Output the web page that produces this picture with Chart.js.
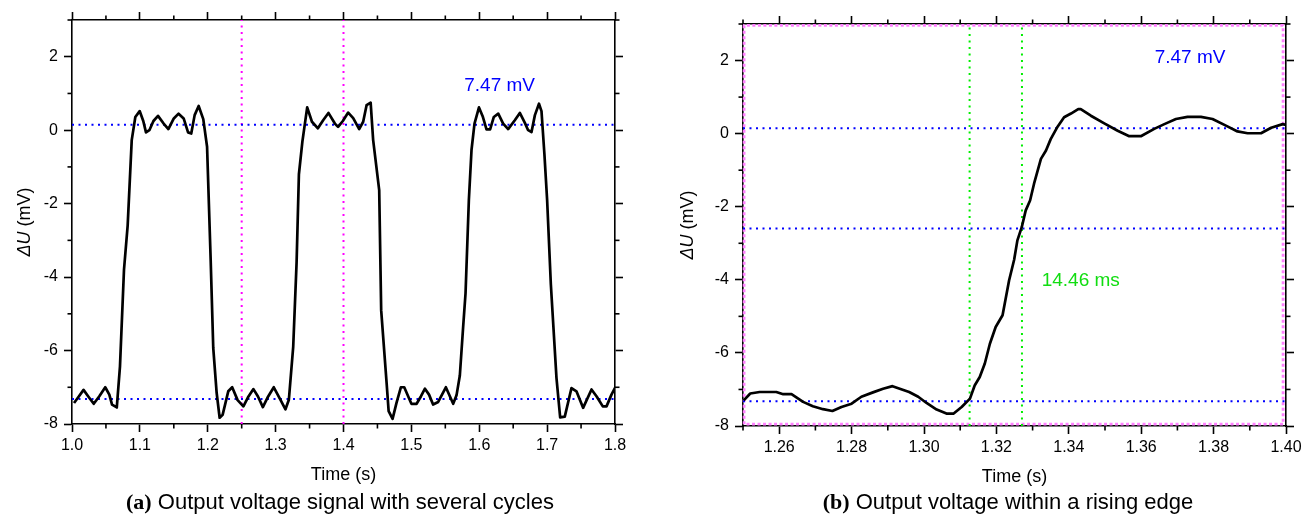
<!DOCTYPE html>
<html>
<head>
<meta charset="utf-8">
<script src="https://cdn.jsdelivr.net/npm/chart.js@4.4.0/dist/chart.umd.min.js"></script>
<style>
  body { margin: 0; background: #fff; }
  #page { position: relative; width: 1311px; height: 520px; background: #fff; font-family: 'Liberation Sans', Arial, sans-serif; }
  canvas { position: absolute; top: 0; }
  .caption { position: absolute; top: 489px; font-size: 22px; line-height: 26px; text-align: center; white-space: nowrap; color: #000; }
  .caption b { font-family: 'Liberation Serif', 'Times New Roman', serif; font-weight: bold; }
</style>
</head>
<body>
<div id="page">
  <canvas id="chartA" width="655" height="490" style="left:0"></canvas>
  <canvas id="chartB" width="656" height="490" style="left:655px"></canvas>
  <div class="caption" style="left:0;width:680px"><b>(a)</b> Output voltage signal with several cycles</div>
  <div class="caption" style="left:700px;width:616px"><b>(b)</b> Output voltage within a rising edge</div>
</div>
<script>
// (a) several cycles of the output signal
var timeA = [1.003, 1.010, 1.017, 1.024, 1.032, 1.040, 1.049, 1.055, 1.059, 1.066,
  1.0707, 1.0766, 1.082, 1.088, 1.0933, 1.0997, 1.105, 1.109, 1.114, 1.120,
  1.1267, 1.135, 1.142, 1.150, 1.157, 1.1645, 1.171, 1.1757, 1.1807, 1.1866,
  1.1934, 1.1990, 1.2043, 1.2081, 1.2131, 1.2175, 1.2219, 1.2302, 1.2360, 1.2440,
  1.2525, 1.2600, 1.2673, 1.2740, 1.2812, 1.2890, 1.2973, 1.3060, 1.3145, 1.3195,
  1.3259, 1.3309, 1.3343, 1.3395, 1.3465, 1.3535, 1.3623, 1.3700, 1.3778, 1.3873,
  1.3920, 1.3990, 1.4069, 1.4143, 1.4231, 1.4290, 1.4340, 1.4400, 1.4437, 1.4526,
  1.4555, 1.4635, 1.4665, 1.4723, 1.4780, 1.4845, 1.4895, 1.5000, 1.5077, 1.5140,
  1.5200, 1.5260, 1.5320, 1.5395, 1.5508, 1.5616, 1.5665, 1.5714, 1.5763, 1.5798,
  1.5847, 1.5886, 1.5930, 1.5996, 1.6050, 1.6107, 1.6160, 1.6215, 1.6280, 1.6352,
  1.6426, 1.6524, 1.6598, 1.6672, 1.6720, 1.6770, 1.6820, 1.6880, 1.6917, 1.6960,
  1.7000, 1.7055, 1.7138, 1.7192, 1.7260, 1.7359, 1.7432, 1.7530, 1.7654, 1.7730,
  1.7820, 1.7875, 1.7948, 1.8000];
var voltA = [-7.43, -7.25, -7.07, -7.25, -7.45, -7.25, -7.00, -7.20, -7.47, -7.55,
  -6.43, -3.80, -2.60, -0.27, 0.36, 0.52, 0.25, -0.06, 0.00, 0.25,
  0.39, 0.18, 0.03, 0.32, 0.45, 0.32, -0.06, -0.09, 0.41, 0.66,
  0.30, -0.45, -3.53, -5.93, -7.15, -7.83, -7.75, -7.11, -7.00, -7.35,
  -7.52, -7.25, -7.05, -7.25, -7.54, -7.25, -7.00, -7.30, -7.60, -7.34,
  -5.90, -3.60, -1.20, -0.30, 0.62, 0.23, 0.05, 0.27, 0.47, 0.18,
  0.09, 0.25, 0.48, 0.33, 0.03, 0.23, 0.68, 0.75, -0.27, -1.63,
  -4.90, -6.88, -7.65, -7.86, -7.43, -7.00, -7.00, -7.45, -7.45, -7.25,
  -7.04, -7.20, -7.47, -7.40, -7.00, -7.45, -7.22, -6.68, -5.35, -4.44,
  -1.90, -0.54, 0.18, 0.62, 0.38, 0.02, 0.02, 0.36, 0.45, 0.18,
  0.03, 0.27, 0.47, 0.20, 0.00, -0.05, 0.41, 0.72, 0.52, -0.65,
  -1.90, -4.20, -6.75, -7.82, -7.80, -7.02, -7.11, -7.56, -7.06, -7.25,
  -7.52, -7.52, -7.20, -7.02];

// (b) one rising edge, finer time base
var timeB = [1.2502, 1.2520, 1.2546, 1.2592, 1.2611, 1.2634, 1.2666, 1.2693, 1.2721, 1.2747,
  1.2772, 1.2800, 1.2827, 1.2859, 1.2887, 1.2913, 1.2933, 1.2959, 1.2984, 1.3007,
  1.3035, 1.3062, 1.3082, 1.3104, 1.3127, 1.3140, 1.3154, 1.3168, 1.3182, 1.3198,
  1.3217, 1.3235, 1.3249, 1.3258, 1.3270, 1.3281, 1.3293, 1.3304, 1.3323, 1.3337,
  1.3350, 1.3369, 1.3387, 1.3406, 1.3426, 1.3433, 1.3461, 1.3498, 1.3535, 1.3567,
  1.3599, 1.3636, 1.3664, 1.3696, 1.3728, 1.3765, 1.3797, 1.3834, 1.3866, 1.3894,
  1.3931, 1.3959, 1.3991, 1.4000];
var voltB = [-7.30, -7.11, -7.07, -7.07, -7.13, -7.13, -7.34, -7.46, -7.54, -7.59,
  -7.48, -7.39, -7.20, -7.08, -6.98, -6.91, -6.98, -7.07, -7.20, -7.37,
  -7.55, -7.66, -7.66, -7.48, -7.25, -6.89, -6.66, -6.29, -5.75, -5.29,
  -4.97, -4.02, -3.45, -2.92, -2.56, -2.10, -1.83, -1.37, -0.69, -0.46,
  -0.15, 0.19, 0.45, 0.55, 0.67, 0.67, 0.49, 0.28, 0.08, -0.07,
  -0.07, 0.13, 0.26, 0.40, 0.46, 0.46, 0.40, 0.22, 0.06, 0.01,
  0.01, 0.16, 0.26, 0.24];

var ticksA = [1.0, 1.1, 1.2, 1.3, 1.4, 1.5, 1.6, 1.7, 1.8];
var ticksB = [1.26, 1.28, 1.30, 1.32, 1.34, 1.36, 1.38, 1.40];
var ticksU = [-8, -6, -4, -2, 0, 2];

// step levels and time constant
var levelHigh = 0.15;                 // mV
var swing = 7.47;                     // mV
var levelLow = levelHigh - swing;
var levelTau = levelLow + 0.632 * swing;
var edgeStart = 1.3126;               // s
var tauMs = 14.46;
var cursorsA = [1.25, 1.40];

var FONT = "'Liberation Sans', Arial, sans-serif";

function pts(xs, ys) {
  return xs.map(function (x, i) { return { x: x, y: ys[i] }; });
}

function dotted(data, color, dash, width) {
  return {
    data: data, borderColor: color, borderWidth: width || 2, borderDash: dash || [2, 4.5],
    pointRadius: 0, fill: false, tension: 0, clip: 4
  };
}

function axes(xmin, xmax, xticks, xdec, fit) {
  var grid = { display: true, drawOnChartArea: false, drawTicks: true, tickLength: 8, tickColor: '#000', tickWidth: 1.6 };
  var border = { display: true, color: '#000', width: 1.6 };
  var font = { family: FONT, size: 16 };
  var setX = function (s) { s.ticks = xticks.map(function (v) { return { value: v }; }); };
  var setY = function (s) { s.ticks = ticksU.map(function (v) { return { value: v }; }); };
  return {
    x: { type: 'linear', position: 'bottom', min: xmin, max: xmax, grid: grid, border: border,
      ticks: { font: font, color: '#000', padding: 4, maxRotation: 0, autoSkip: false,
        callback: function (v) { return v.toFixed(xdec); } },
      afterBuildTicks: setX, afterFit: function (s) { s.height = fit.bottom; } },
    x2: { type: 'linear', position: 'top', min: xmin, max: xmax, grid: grid, border: border,
      ticks: { display: false }, afterBuildTicks: setX, afterFit: function (s) { s.height = fit.top; } },
    y: { type: 'linear', position: 'left', min: -8, max: 3, grid: grid, border: border,
      ticks: { font: font, color: '#000', padding: 6, autoSkip: false,
        callback: function (v) { return String(v); } },
      afterBuildTicks: setY, afterFit: function (s) { s.width = fit.left; } },
    y2: { type: 'linear', position: 'right', min: -8, max: 3, grid: grid, border: border,
      ticks: { display: false }, afterBuildTicks: setY, afterFit: function (s) { s.width = fit.right; } }
  };
}

// short unlabelled ticks between the major ones
var minorTicks = {
  id: 'minorTicks',
  afterDraw: function (chart, args, opts) {
    var ctx = chart.ctx;
    ctx.save();
    ctx.strokeStyle = '#000';
    ctx.lineWidth = 1.6;
    Object.keys(opts.steps || {}).forEach(function (id) {
      var s = chart.scales[id], step = opts.steps[id];
      var n = Math.round((s.max - s.min) / step);
      for (var i = 0; i <= n; i++) {
        var v = s.min + i * step;
        if (s.ticks.some(function (t) { return Math.abs(t.value - v) < step / 10; })) continue;
        var p = s.getPixelForValue(v);
        ctx.beginPath();
        if (s.position === 'left') { ctx.moveTo(s.right, p); ctx.lineTo(s.right - 4.5, p); }
        else if (s.position === 'right') { ctx.moveTo(s.left, p); ctx.lineTo(s.left + 4.5, p); }
        else if (s.position === 'top') { ctx.moveTo(p, s.bottom); ctx.lineTo(p, s.bottom - 4.5); }
        else { ctx.moveTo(p, s.top); ctx.lineTo(p, s.top + 4.5); }
        ctx.stroke();
      }
    });
    ctx.restore();
  }
};

// axis titles (italic symbol in the y title) and in-plot labels
var labels = {
  id: 'labels',
  afterDraw: function (chart, args, opts) {
    var ctx = chart.ctx, a = chart.chartArea;
    var sx = chart.scales.x, sy = chart.scales.y;
    ctx.save();
    ctx.fillStyle = '#000';
    ctx.textBaseline = 'middle';
    ctx.textAlign = 'center';
    ctx.font = '18px ' + FONT;
    ctx.fillText('Time (s)', (a.left + a.right) / 2, a.bottom + 51);

    ctx.translate(opts.yTitleX, (a.top + a.bottom) / 2);
    ctx.rotate(-Math.PI / 2);
    ctx.font = 'italic 18px ' + FONT;
    var w1 = ctx.measureText('\u0394U').width;
    ctx.font = '18px ' + FONT;
    var w2 = ctx.measureText(' (mV)').width;
    ctx.textAlign = 'left';
    ctx.font = 'italic 18px ' + FONT;
    ctx.fillText('\u0394U', -(w1 + w2) / 2, 0);
    ctx.font = '18px ' + FONT;
    ctx.fillText(' (mV)', -(w1 + w2) / 2 + w1, 0);
    ctx.restore();

    ctx.save();
    ctx.textAlign = 'center';
    ctx.textBaseline = 'middle';
    ctx.font = '19px ' + FONT;
    (opts.items || []).forEach(function (it) {
      ctx.fillStyle = it.color;
      ctx.fillText(it.text, sx.getPixelForValue(it.x), sy.getPixelForValue(it.y));
    });
    ctx.restore();
  }
};

Chart.register(minorTicks, labels);

var common = {
  responsive: false, animation: false, events: [],
  layout: { padding: 0 },
  elements: { line: { borderCapStyle: 'butt', borderJoinStyle: 'round' } }
};

new Chart(document.getElementById('chartA'), {
  type: 'line',
  data: {
    datasets: [
      { data: pts(timeA, voltA), borderColor: '#000', borderWidth: 2.7, pointRadius: 0, fill: false, tension: 0 },
      dotted([{ x: 1.0, y: levelHigh }, { x: 1.8, y: levelHigh }], '#0000ff'),
      dotted([{ x: 1.0, y: levelLow }, { x: 1.8, y: levelLow }], '#0000ff'),
      dotted([{ x: cursorsA[0], y: -8 }, { x: cursorsA[0], y: 3 }], '#ff00ff'),
      dotted([{ x: cursorsA[1], y: -8 }, { x: cursorsA[1], y: 3 }], '#ff00ff')
    ]
  },
  options: Object.assign({}, common, {
    scales: axes(1.0, 1.8, ticksA, 1, { left: 72, right: 40, top: 20, bottom: 66 }),
    plugins: {
      legend: { display: false }, tooltip: { enabled: false },
      minorTicks: { steps: { x: 0.05, x2: 0.05, y: 1, y2: 1 } },
      labels: { yTitleX: 25, items: [{ text: swing.toFixed(2) + ' mV', x: 1.63, y: 1.22, color: '#0000ff' }] }
    }
  })
});

new Chart(document.getElementById('chartB'), {
  type: 'line',
  data: {
    datasets: [
      { data: pts(timeB, voltB), borderColor: '#000', borderWidth: 2.7, pointRadius: 0, fill: false, tension: 0 },
      dotted([{ x: 1.25, y: levelHigh }, { x: 1.40, y: levelHigh }], '#0000ff'),
      dotted([{ x: 1.25, y: levelTau }, { x: 1.40, y: levelTau }], '#0000ff'),
      dotted([{ x: 1.25, y: levelLow }, { x: 1.40, y: levelLow }], '#0000ff'),
      dotted([{ x: edgeStart, y: -8 }, { x: edgeStart, y: 3 }], '#00ee00'),
      dotted([{ x: edgeStart + tauMs / 1000, y: -8 }, { x: edgeStart + tauMs / 1000, y: 3 }], '#00ee00'),
      // frame of the zoomed window
      dotted([{ x: 1.2503, y: -7.95 }, { x: 1.2503, y: 2.96 }, { x: 1.3992, y: 2.96 }, { x: 1.3992, y: -7.95 }, { x: 1.2503, y: -7.95 }], '#ff80ff', [3, 2.5], 2.8)
    ]
  },
  options: Object.assign({}, common, {
    scales: axes(1.25, 1.40, ticksB, 2, { left: 88, right: 25, top: 24, bottom: 64 }),
    plugins: {
      legend: { display: false }, tooltip: { enabled: false },
      minorTicks: { steps: { x: 0.01, x2: 0.01, y: 1, y2: 1 } },
      labels: { yTitleX: 33, items: [
        { text: swing.toFixed(2) + ' mV', x: 1.3735, y: 2.08, color: '#0000ff' },
        { text: tauMs.toFixed(2) + ' ms', x: 1.3433, y: -4.03, color: '#11dd11' }
      ] }
    }
  })
});
</script>
</body>
</html>
